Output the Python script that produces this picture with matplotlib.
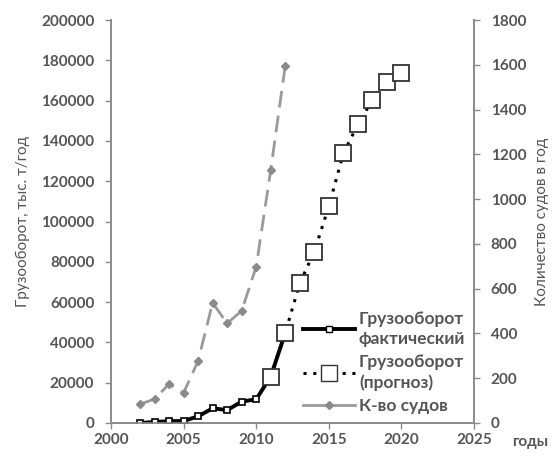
import matplotlib.pyplot as plt
from matplotlib.lines import Line2D

plt.rcParams['font.family'] = ['Lato', 'DejaVu Sans']
plt.rcParams['font.weight'] = 'bold'

# грузооборот фактический, тыс. т/год
fact_years = [2002, 2003, 2004, 2005, 2006, 2007, 2008, 2009, 2010, 2011, 2012]
fact_vals = [0, 500, 900, 1000, 3300, 7300, 6400, 10600, 11800, 23000, 44700]

# грузооборот (прогноз)
prog_years = [2011, 2012, 2013, 2014, 2015, 2016, 2017, 2018, 2019, 2020]
prog_vals = [23000, 44700, 69300, 85000, 107500, 133800, 148200, 160300, 169400, 173800]

# количество судов в год
ship_years = [2002, 2003, 2004, 2005, 2006, 2007, 2008, 2009, 2010, 2011, 2012]
ship_vals = [84, 107, 174, 135, 277, 537, 445, 501, 698, 1130, 1596]

txt = '#555555'
spine = '#8a8a8a'

fig = plt.figure(figsize=(5.56, 4.57), dpi=100)
ax = fig.add_axes([0.1996, 0.0744, 0.6529, 0.8816])
ax2 = ax.twinx()

ax.plot(fact_years, fact_vals, color='black', lw=2.8, marker='s', ms=5,
        mfc='white', mec='black', mew=1.2, zorder=3)
ax.plot(prog_years, prog_vals, color='black', lw=2.2, ls=(0, (1, 2.2)),
        marker='s', ms=11, mfc='white', mec='#333333', mew=1.3, zorder=4)
ax2.plot(ship_years, ship_vals, color='#9a9a9a', lw=2, ls=(0, (6, 3)),
         marker='D', ms=4.5, mfc='#8a8a8a', mec='#8a8a8a')

ax.set_xlim(2000, 2025)
ax.set_ylim(0, 200000)
ax2.set_ylim(0, 1800)
ax.set_xticks(range(2000, 2026, 5))
ax.set_yticks(range(0, 200001, 20000))
ax2.set_yticks(range(0, 1801, 200))

for a in (ax, ax2):
    for s in a.spines.values():
        s.set_color(spine)
        s.set_linewidth(1.2)
    a.spines['top'].set_visible(False)
    a.tick_params(colors=spine, labelcolor=txt, labelsize=11, length=4, width=1)
ax.tick_params(axis='y', pad=8)
ax2.tick_params(axis='y', pad=8)

ax.set_ylabel('Грузооборот, тыс. т/год', fontsize=11, color=txt, labelpad=8)
ax2.set_ylabel('Количество судов в год', fontsize=11, color=txt, labelpad=6)
fig.text(0.921, 0.033, 'годы', fontsize=11, color=txt, va='center')

handles = [
    Line2D([], [], color='black', lw=2.8, marker='s', ms=5, mfc='white', mec='black'),
    Line2D([], [], color='black', lw=2.2, ls=(0, (1, 2.2)), marker='s', ms=11,
           mfc='white', mec='#333333'),
    Line2D([], [], color='#9a9a9a', lw=2, marker='D', ms=4.5, mfc='#8a8a8a', mec='#8a8a8a'),
]
labels = ['Грузооборот\nфактический', 'Грузооборот\n(прогноз)', 'К-во судов']
leg = ax2.legend(handles, labels, loc='lower right', bbox_to_anchor=(1.0, 0.0),
                 frameon=False, fontsize=12.5, handlelength=3.0, handletextpad=0.25,
                 labelspacing=0.4, borderaxespad=0.1)
for t in leg.get_texts():
    t.set_color(txt)
    t.set_linespacing(1.35)

fig.savefig('out.png', dpi=100)
